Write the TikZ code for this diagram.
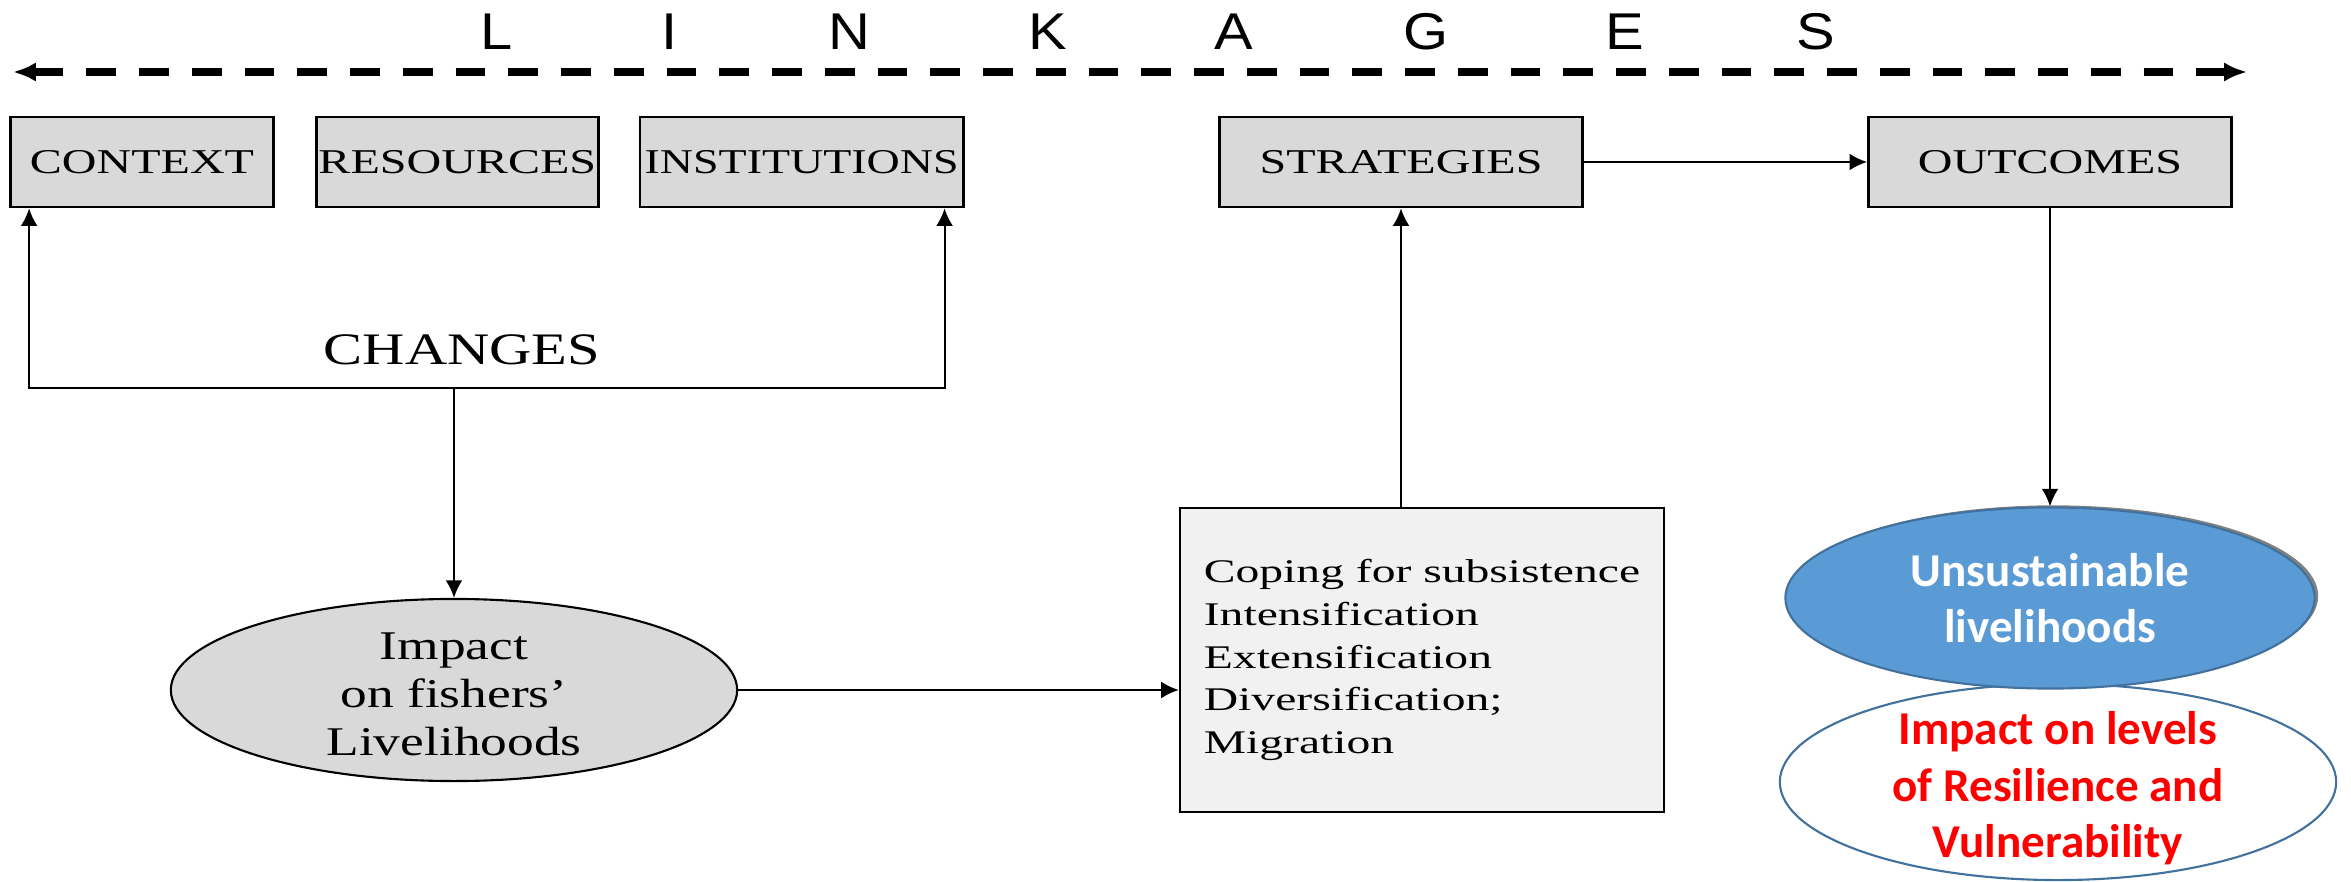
\documentclass[tikz,border=0pt]{standalone}
\usepackage{fontspec}
\setmainfont{Liberation Serif}
\newfontfamily\calibri{Carlito}
\newfontfamily\linkfont{Liberation Sans}
\usetikzlibrary{positioning, shapes.geometric, arrows.meta, shadows}

\definecolor{boxgray}{HTML}{D9D9D9}
\definecolor{pagegray}{HTML}{F1F1F1}
\definecolor{officeblue}{HTML}{5B9BD5}
\definecolor{officeedge}{HTML}{41719C}

% the serif text of the figure is stretched sideways
\newcommand{\wide}[2][1.38]{\scalebox{#1}[1]{#2}}

\tikzset{
  box/.style={draw, line width=0.75pt, fill=boxgray, minimum height=0.9cm, inner sep=0pt, font=\fontsize{9.9}{12}\selectfont},
  linkletter/.style={font=\linkfont\fontsize{14.7}{16}\selectfont, inner sep=0pt, anchor=base},
  linkage/.style={line width=2pt, dash pattern=on 8.5pt off 6.5pt, {Latex[length=6.5pt,width=5.5pt]}-{Latex[length=6.5pt,width=5.5pt]}},
  calib/.style={font=\calibri\bfseries\fontsize{13.4}{16.1}\selectfont, align=center}
}

\begin{document}
\begin{tikzpicture}[x=0.01cm, y=-0.01cm, line width=0.6pt, >={Latex[length=5pt,width=4.8pt]}]
		\useasboundingbox (0,0) rectangle (2351,882);
		
		% linkages
		\foreach \x/\c in {497/L, 670/I, 849/N, 1048/K, 1234/A, 1426/G, 1625/E, 1816/S}
		  \node[linkletter] (ttl-\c) at (\x,50) {\wide[1.12]{\c}};
		\coordinate (linkl) at (13,72);
		\coordinate (linkr) at (2247,72);
		\draw[linkage] (linkl) -- (linkr);
		
		% top row
		\node[box, minimum width=2.63cm] (context) at (142,162) {\wide{CONTEXT}};
		\node[box, minimum width=2.82cm, right=0.4cm of context] (resources) {\wide{RESOURCES}};
		\node[box, minimum width=3.23cm, right=0.39cm of resources] (institutions) {\wide[1.32]{INSTITUTIONS}};
		\node[box, minimum width=3.63cm] (strategies) at (1401,162) {\wide{STRATEGIES}};
		\node[box, minimum width=3.63cm, right=2.83cm of strategies] (outcomes) {\wide{OUTCOMES}};
		
		\node[font=\fontsize{12.8}{15}\selectfont, inner sep=0pt] (changes) at (462,350) {\wide[1.3]{CHANGES}};
		\coordinate (fork) at (454,388);
		
		% impact on fishers
		\node[ellipse, draw, fill=boxgray, minimum width=5.66cm, minimum height=1.82cm, inner sep=0pt] (impact) at (454,690) {};
		\node[font=\fontsize{11.6}{13.7}\selectfont, align=center, inner sep=0pt] (impacttext) at ([yshift=-1.2pt]impact.center)
		  {\wide[1.31]{Impact}\\ \wide[1.31]{on fishers'}\\ \wide[1.31]{Livelihoods}};
		
		\node[draw, fill=pagegray, minimum width=4.84cm, minimum height=3.03cm, inner sep=0pt, align=left,
		  font=\fontsize{9.4}{12.1}\selectfont] (coping) at (1422,660)
		  {\wide[1.44]{Coping for subsistence}\\ \wide[1.44]{Intensification}\\ \wide[1.44]{Extensification}\\
		   \wide[1.44]{Diversification;}\\ \wide[1.44]{Migration}};
		
		% outcomes
		\node[ellipse, draw=officeedge, fill=white, minimum width=5.56cm, minimum height=1.96cm, inner sep=0pt] (resil) at (2058,782) {};
		\node[calib, text=red, inner sep=0pt] (resiltext) at ([yshift=-1.8pt]resil.center) {Impact on levels\\ of Resilience and\\ Vulnerability};
		\node[ellipse, calib, draw=officeedge, fill=officeblue, text=white, minimum width=5.29cm, minimum height=1.81cm, inner sep=0pt,
		  drop shadow={shadow xshift=1pt, shadow yshift=0.6pt, opacity=0.7, fill=black!70}] (unsust) at (outcomes |- 0,598)
		  {Unsustainable\\ livelihoods};
		
		\draw[->] (fork) -| ([xshift=0.2cm]context.south west);
		\draw[->] (fork) -| ([xshift=-0.2cm]institutions.south east);
		\draw[->] (fork) -- (impact);
		\draw[->] (impact) -- (impact -| coping.west);
		\draw[->] (coping.north -| strategies) -- (strategies);
		\draw[->] (strategies) -- (outcomes);
		\draw[->] (outcomes) -- (unsust);
		\end{tikzpicture}
\end{document}
